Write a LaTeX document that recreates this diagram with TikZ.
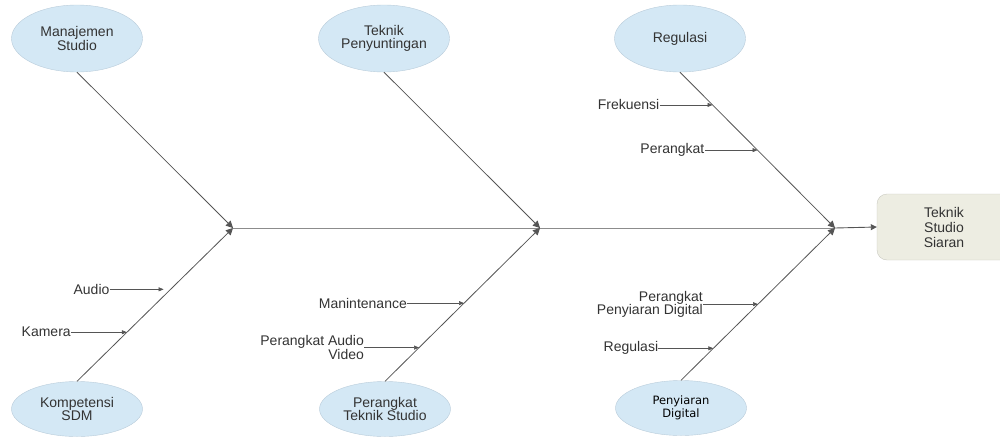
\documentclass[tikz,border=0pt]{standalone}
\usepackage{fontspec}
\setmainfont{Liberation Sans}
\newfontfamily\dejavu{DejaVu Sans}
\usetikzlibrary{arrows.meta,shapes.geometric}
\definecolor{ellfill}{HTML}{D4E8F5}
\definecolor{ellborder}{HTML}{B9CCDA}
\definecolor{boxfill}{HTML}{EDEDE2}
\definecolor{boxborder}{HTML}{C9C9C0}
\definecolor{bonecol}{HTML}{8C8C8C}
\definecolor{arrcol}{HTML}{555555}
\begin{document}
\begin{tikzpicture}[x=1pt,y=-1pt,
  cause/.style={ellipse, draw=ellborder, fill=ellfill, minimum width=131pt, minimum height=67pt, inner sep=0pt, align=center, font=\fontsize{14}{13.5}\selectfont, text=black!80},
  causeb/.style={cause, minimum height=55pt},
  effect/.style={rectangle, rounded corners=10pt, draw=boxborder, fill=boxfill, minimum width=134pt, minimum height=66pt, align=center, font=\fontsize{14}{15}\selectfont, text=black!80},
  lbl/.style={inner sep=0pt, anchor=east, align=right, font=\fontsize{14}{13.5}\selectfont, text=black!80},
  bone/.style={draw=bonecol, line width=0.8pt, -{Triangle[length=7pt,width=7pt]}, arrcol},
  spine/.style={draw=bonecol, line width=0.9pt},
  sub/.style={draw=arrcol, line width=0.6pt, -{Triangle[length=5pt,width=4pt]}}
]
\useasboundingbox (0,0) rectangle (1000,445);

% causes
\node[cause] (manE) at (77,38.5) {Manajemen\\Studio};
\node[cause] (tekE) at (384,38.5) {Teknik\\Penyuntingan};
\node[cause] (regE) at (680,38.5) {Regulasi};
\node[causeb] (komE) at (77,409) {Kompetensi\\SDM};
\node[causeb] (perE) at (385,409) {Perangkat\\Teknik Studio};
\node[causeb, font=\dejavu\fontsize{11.5}{12.5}\selectfont, text=black] (penE) at (681,408) {Penyiaran\\Digital};

% effect
\node[effect] (eff) at (944,227) {Teknik\\Studio\\Siaran};

% junctions
\coordinate (j1) at (233,228);
\coordinate (j2) at (540,228);
\coordinate (j3) at (835,228);

% spine
\draw[spine] (j1) -- (j3);
\draw[spine, -{Triangle[length=6pt,width=6pt]}, arrcol] (j3) -- (eff.west);

% bones
\draw[bone] (manE.south) -- (j1);
\draw[bone] (komE.north) -- (j1);
\draw[bone] (tekE.south) -- (j2);
\draw[bone] (perE.north) -- (j2);
\draw[bone] (regE.south) -- (j3);
\draw[bone] (penE.north) -- (j3);

% points on bones
\path (regE.south) -- (j3) coordinate[pos=0.21] (p1) coordinate[pos=0.5] (p2);
\path (penE.north) -- (j3) coordinate[pos=0.5] (p3) coordinate[pos=0.21] (p4);
\path (komE.north) -- (j1) coordinate[pos=0.60] (p5) coordinate[pos=0.32] (p6);
\path (perE.north) -- (j2) coordinate[pos=0.51] (p7) coordinate[pos=0.22] (p8);

% sub causes
\node[lbl] (t1) at ([xshift=-53pt]p1) {Frekuensi};
\node[lbl] (t2) at ([xshift=-53pt]p2) {Perangkat};
\node[lbl] (t3) at ([xshift=-55pt]p3) {Perangkat\\Penyiaran Digital};
\node[lbl] (t4) at ([xshift=-55pt]p4) {Regulasi};
\node[lbl] (t5) at ([xshift=-61pt]p5) {Audio};
\node[lbl] (t6) at ([xshift=-56pt]p6) {Kamera};
\node[lbl] (t7) at ([xshift=-57pt]p7) {Manintenance};
\node[lbl] (t8) at ([xshift=-55pt]p8) {Perangkat Audio\\Video};

\draw[sub] (t1.east) -- (p1);
\draw[sub] (t2.east) -- (p2);
\draw[sub] (t3.east) -- (p3);
\draw[sub] (t4.east) -- (p4);
\draw[sub, shorten >=7pt] (t5.east) -- (p5);
\draw[sub] (t6.east) -- (p6);
\draw[sub] (t7.east) -- (p7);
\draw[sub] (t8.east) -- (p8);
\end{tikzpicture}
\end{document}
